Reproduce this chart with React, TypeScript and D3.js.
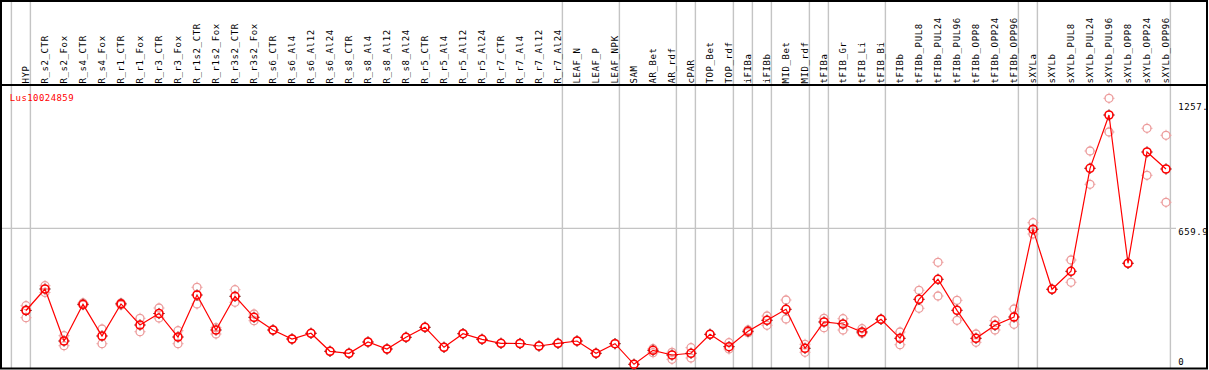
import React from "react";
import * as d3 from "d3";

const W = 1209;
const H = 370;

const geneLabel = "Lus10024859";

const categories = [
  "HYP", "R_s2_CTR", "R_s2_Fox", "R_s4_CTR", "R_s4_Fox", "R_r1_CTR", "R_r1_Fox", "R_r3_CTR", "R_r3_Fox",
  "R_r1s2_CTR", "R_r1s2_Fox", "R_r3s2_CTR", "R_r3s2_Fox", "R_s6_CTR", "R_s6_Al4", "R_s6_Al12", "R_s6_Al24",
  "R_s8_CTR", "R_s8_Al4", "R_s8_Al12", "R_s8_Al24", "R_r5_CTR", "R_r5_Al4", "R_r5_Al12", "R_r5_Al24",
  "R_r7_CTR", "R_r7_Al4", "R_r7_Al12", "R_r7_Al24", "LEAF_N", "LEAF_P", "LEAF_NPK", "SAM", "AR_Bet", "AR_rdf",
  "cPAR", "TOP_Bet", "TOP_rdf", "iFIBa", "iFIBb", "MID_Bet", "MID_rdf", "tFIBa", "tFIB_Gr", "tFIB_Li", "tFIB_Bi",
  "tFIBb", "tFIBb_PUL8", "tFIBb_PUL24", "tFIBb_PUL96", "tFIBb_OPP8", "tFIBb_OPP24", "tFIBb_OPP96",
  "sXYLa", "sXYLb", "sXYLb_PUL8", "sXYLb_PUL24", "sXYLb_PUL96", "sXYLb_OPP8", "sXYLb_OPP24", "sXYLb_OPP96",
];

const means = [
  267.5, 370.2, 121.8, 297.0, 145.7, 299.0, 198.2, 253.2, 140.9, 341.5, 174.3, 335.3, 235.0,
  174.3, 131.4, 158.6, 72.6, 63.1, 117.0, 83.6, 139.5, 187.2, 91.7, 156.7, 129.9,
  110.8, 109.9, 97.9, 110.8, 121.8, 63.1, 108.9, 10.5, 77.4, 54.9, 63.1, 153.8, 94.6,
  168.1, 220.7, 273.2, 86.9, 212.6, 203.0, 164.8, 225.5, 134.7, 321.0, 416.5, 268.4,
  134.7, 196.8, 236.4, 655.4, 368.8, 454.7, 946.7, 1201.3, 493.0, 1024.6, 943.4,
];

const replicates: number[][] = [
  [290.4, 269.9, 233.1], [386.0, 353.5], [147.1, 99.4], [303.3, 293.8], [179.1, 108.9],
  [303.3, 293.8], [230.2, 166.2], [279.4, 231.7], [171.0, 108.9], [378.3, 298.5],
  [185.3, 155.2], [366.8, 306.7], [250.8, 218.8], [174.3], [131.4], [158.6], [72.6],
  [63.1], [117.0], [83.6], [139.5], [187.2], [91.7], [156.7], [129.9], [110.8], [109.9],
  [97.9], [110.8], [121.8], [63.1], [108.9], [10.5], [85.0, 65.9], [67.8, 34.4],
  [89.8, 40.6], [153.8], [113.7, 83.6], [174.3, 161.5], [241.2, 196.8], [317.7, 226.9],
  [106.0, 67.8], [230.2, 185.3], [228.3, 174.3], [180.6, 158.6], [225.5], [164.8, 104.1],
  [364.0, 278.0], [497.7, 336.8], [316.2, 220.7], [155.2, 115.6], [218.8, 174.3],
  [274.7, 201.6], [686.9, 632.9], [368.8], [508.7, 402.2], [1029.4, 870.3],
  [1281.1, 1120.1], [493.0], [1137.8, 913.3], [1104.4, 784.3],
];

// group separators drawn after these category indices (-1 = before the first)
const separatorsAfter = [-1, 0, 28, 31, 34, 35, 37, 38, 39, 41, 42, 45, 52, 53, 60];

const yTickValues = [0, 659.9, 1257];
const yTickLabels = ["0", "659.9", "1257."];
const yGridValues = [659.9];
const yMax = 1319.8;

const FONT = "'DejaVu Sans Mono', 'Liberation Mono', monospace";

function Marker({ cx, cy, color, tick, sw }: { cx: number; cy: number; color: string; tick: string; sw: number }) {
  const r = 4;
  const t = 1.6;
  return (
    <g>
      <line x1={cx} y1={cy - r - t} x2={cx} y2={cy - r + 0.5} stroke={tick} strokeWidth={1} />
      <line x1={cx} y1={cy + r - 0.5} x2={cx} y2={cy + r + t} stroke={tick} strokeWidth={1} />
      <line x1={cx - r - t} y1={cy} x2={cx - r + 0.5} y2={cy} stroke={tick} strokeWidth={1} />
      <line x1={cx + r - 0.5} y1={cy} x2={cx + r + t} y2={cy} stroke={tick} strokeWidth={1} />
      <circle cx={cx} cy={cy} r={r} fill="none" stroke={color} strokeWidth={sw} />
    </g>
  );
}

export default function App() {
  const x = d3.scalePoint<string>().domain(categories).range([26, 1166]);
  const step = x.step();
  const y = d3.scaleLinear().domain([0, yMax]).range([366.5, 90.2]);
  const linePath = d3
    .line<number>()
    .x((_, i) => x(categories[i]) as number)
    .y((d) => y(d))(means) as string;

  const headerY = 85;
  const sepX = (i: number) => 26 + step * i + 4.4;

  return (
    <svg
      width={W}
      height={H}
      viewBox={`0 0 ${W} ${H}`}
      style={{ position: "absolute", left: 0, top: 0, display: "block", background: "#fff" }}
    >
      <rect x={0} y={0} width={W} height={H} fill="#fff" />
      {/* separators */}
      {separatorsAfter.map((i) => (
        <line key={"s" + i} x1={sepX(i)} x2={sepX(i)} y1={1} y2={368} stroke="#c4c4c4" strokeWidth={1.4} />
      ))}
      {/* horizontal gridline */}
      {yGridValues.map((v) => (
        <line key={"g" + v} x1={2} x2={1176} y1={y(v)} y2={y(v)} stroke="#c4c4c4" strokeWidth={1.4} />
      ))}
      {/* frame */}
      <rect x={1} y={1} width={1206} height={367.5} fill="none" stroke="#000" strokeWidth={2} />
      <line x1={1} x2={1207} y1={headerY} y2={headerY} stroke="#000" strokeWidth={2} />
      {/* category labels */}
      {categories.map((c) => {
        const cx = (x(c) as number) + 2.9;
        return (
          <text
            key={c}
            transform={`translate(${cx},${headerY - 1.5}) rotate(-90)`}
            fontFamily={FONT}
            fontSize={9}
            letterSpacing={0.6}
            fill="#000"
          >
            {c}
          </text>
        );
      })}
      {/* gene label */}
      <text x={9.7} y={100.7} fontFamily={FONT} fontSize={9} letterSpacing={0.43} fill="#ff0000">
        {geneLabel}
      </text>
      {/* y tick labels */}
      {yTickValues.map((v, i) => (
        <text
          key={"t" + v}
          x={1178.3}
          y={v === 0 ? y(v) - 1.5 : y(v) + 7}
          fontFamily={FONT}
          fontSize={9}
          letterSpacing={0.6}
          fill="#000"
        >
          {yTickLabels[i]}
        </text>
      ))}
      {/* replicate points */}
      {replicates.map((reps, i) =>
        reps.map((v, j) => (
          <Marker
            key={`r${i}-${j}`}
            cx={x(categories[i]) as number}
            cy={y(v)}
            color="#ec9c9c"
            tick="#f0b0b0"
            sw={1.3}
          />
        ))
      )}
      {/* mean line */}
      <path d={linePath} fill="none" stroke="#ff0000" strokeWidth={1.2} />
      {/* mean points */}
      {means.map((v, i) => (
        <Marker key={"m" + i} cx={x(categories[i]) as number} cy={y(v)} color="#ff0000" tick="#500000" sw={1.6} />
      ))}
    </svg>
  );
}
